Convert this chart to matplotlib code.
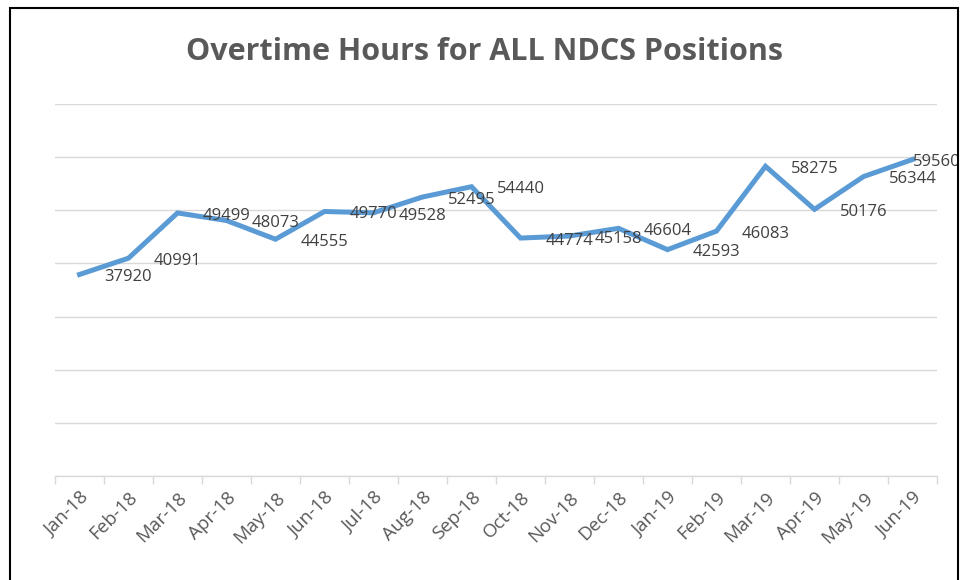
import matplotlib
matplotlib.use("Agg")
import matplotlib.pyplot as plt
from matplotlib.patches import Rectangle

months = ["Jan-18", "Feb-18", "Mar-18", "Apr-18", "May-18", "Jun-18", "Jul-18", "Aug-18",
          "Sep-18", "Oct-18", "Nov-18", "Dec-18", "Jan-19", "Feb-19", "Mar-19", "Apr-19",
          "May-19", "Jun-19"]
hours = [37920, 40991, 49499, 48073, 44555, 49770, 49528, 52495, 54440, 44774, 45158,
         46604, 42593, 46083, 58275, 50176, 56344, 59560]

gray = "#595959"
fig = plt.figure(figsize=(9.67, 5.8), dpi=100)
fig.patches.append(Rectangle((10/967, -0.1), 948/967, 1 - 8/580 + 0.1, transform=fig.transFigure,
                             fill=False, edgecolor="black", linewidth=1.5))
ax = fig.add_axes([55/967, 1 - 476/580, 882/967, (476 - 104)/580])

x = list(range(len(months)))
ax.plot(x, hours, color="#5B9BD5", linewidth=3.6, solid_joinstyle="miter", zorder=3)
ax.set_xlim(-0.5, len(months) - 0.5)
ax.set_ylim(0, 70000)
ax.set_yticks(range(0, 70001, 10000))
ax.yaxis.grid(True, color="#D9D9D9", linewidth=1.0)
ax.set_axisbelow(True)
ax.tick_params(axis="y", left=False, labelleft=False)
for s in ["left", "right", "top"]:
    ax.spines[s].set_visible(False)
ax.spines["bottom"].set_color("#D9D9D9")
ax.spines["bottom"].set_linewidth(1.0)

ax.set_xticks(x)
ax.set_xticklabels(months, rotation=45, ha="right", rotation_mode="anchor",
                   fontsize=13.5, color=gray, family="Open Sans")
ax.tick_params(axis="x", length=0, pad=9)
ax.set_xticks([i - 0.5 for i in range(len(months) + 1)], minor=True)
ax.tick_params(axis="x", which="minor", length=6, color="#D9D9D9", width=1.0)

for i, v in enumerate(hours):
    dx = 18 if i < len(hours) - 1 else 0
    ax.annotate(str(v), (i, v), xytext=(dx, -2), textcoords="offset points",
                ha="left", va="center", fontsize=12, color="#404040", family="Open Sans")

fig.text(485/967, 1 - 52/580, "Overtime Hours for ALL NDCS Positions", ha="center", va="center",
         fontsize=22, fontweight="bold", color=gray, family="Open Sans")

fig.savefig("out.png", dpi=100)
